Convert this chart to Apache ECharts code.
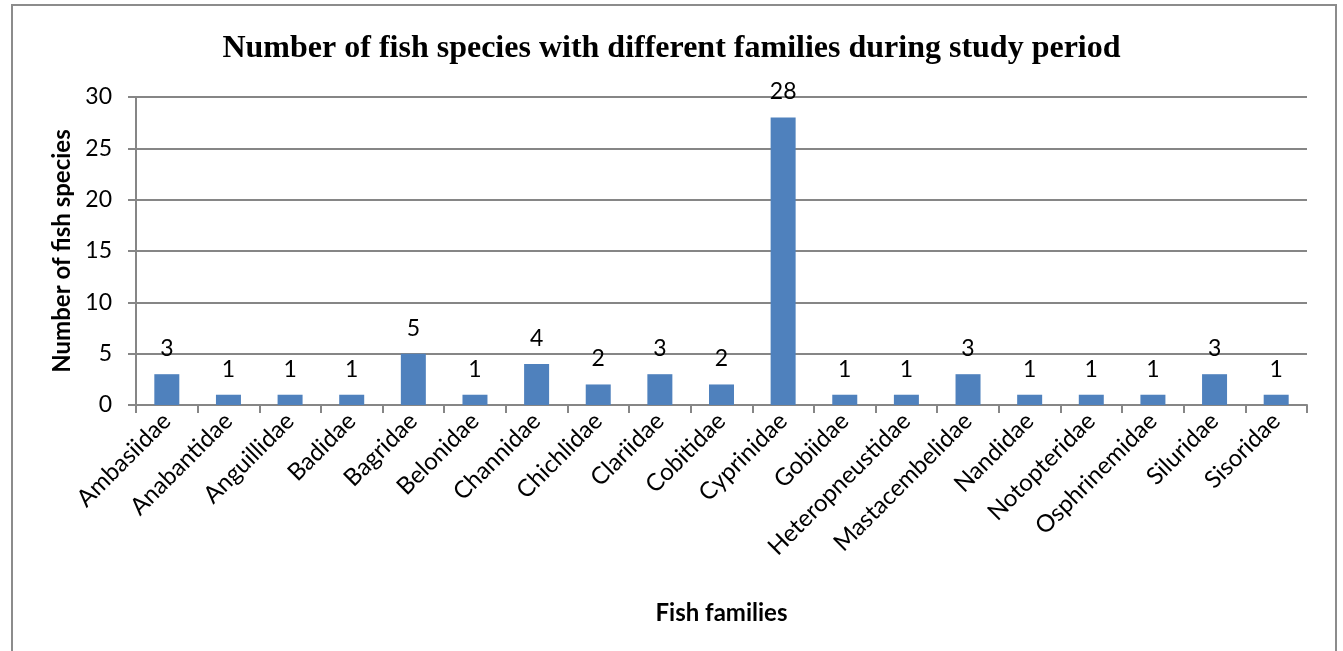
<!DOCTYPE html>
<html>
<head>
<meta charset="utf-8">
<script src="https://cdn.jsdelivr.net/npm/echarts@6/dist/echarts.min.js"></script>
<style>
  html, body { margin: 0; padding: 0; background: #fff; }
  #chart { width: 1343px; height: 651px; }
</style>
</head>
<body>
<div id="chart"></div>
<script>
// fish families and species counts
var families = ["Ambasiidae", "Anabantidae", "Anguillidae", "Badidae", "Bagridae", "Belonidae",
  "Channidae", "Chichlidae", "Clariidae", "Cobitidae", "Cyprinidae", "Gobiidae",
  "Heteropneustidae", "Mastacembelidae", "Nandidae", "Notopteridae", "Osphrinemidae",
  "Siluridae", "Sisoridae"];
var speciesCount = [3, 1, 1, 1, 5, 1, 4, 2, 3, 2, 28, 1, 1, 3, 1, 1, 1, 3, 1];

var chart = echarts.init(document.getElementById("chart"));
var labelFont = "Lato, 'Open Sans', sans-serif";

chart.setOption({
  animation: false,
  title: {
    text: "Number of fish species with different families during study period",
    left: "center",
    top: 28,
    textStyle: {
      fontFamily: "'Liberation Serif', 'Times New Roman', serif",
      fontWeight: "bold",
      fontSize: 32,
      color: "#000"
    }
  },
  graphic: [
    {
      type: "rect",
      shape: { x: 12, y: 5, width: 1324, height: 660 },
      style: { fill: null, stroke: "#8c8c8c", lineWidth: 2 },
      silent: true
    }
  ],
  grid: { left: 136, right: 36, top: 97, bottom: 246 },
  xAxis: {
    type: "category",
    data: families,
    name: "Fish families",
    nameLocation: "middle",
    nameGap: 196,
    nameTextStyle: { fontFamily: labelFont, fontWeight: "bold", fontSize: 24, color: "#000" },
    axisLine: { lineStyle: { color: "#868686", width: 2 } },
    axisTick: { show: true, length: 8, lineStyle: { color: "#868686", width: 2 } },
    axisLabel: { rotate: 45, fontFamily: labelFont, fontSize: 24, color: "#000", margin: 12, interval: 0 }
  },
  yAxis: {
    type: "value",
    min: 0,
    max: 30,
    interval: 5,
    name: "Number of fish species",
    nameLocation: "middle",
    nameGap: 62,
    nameTextStyle: { fontFamily: labelFont, fontWeight: "bold", fontSize: 24, color: "#000" },
    axisLine: { show: true, lineStyle: { color: "#868686", width: 2 } },
    axisTick: { show: true, length: 8, lineStyle: { color: "#868686", width: 2 } },
    axisLabel: { fontFamily: labelFont, fontSize: 23, color: "#000", margin: 24 },
    splitLine: { lineStyle: { color: "#868686", width: 2 } }
  },
  series: [
    {
      type: "bar",
      data: speciesCount,
      barWidth: 25,
      itemStyle: { color: "#4f81bd" },
      label: {
        show: true,
        position: "top",
        distance: 14,
        fontFamily: labelFont,
        fontSize: 23,
        color: "#000"
      }
    }
  ]
});
</script>
</body>
</html>
